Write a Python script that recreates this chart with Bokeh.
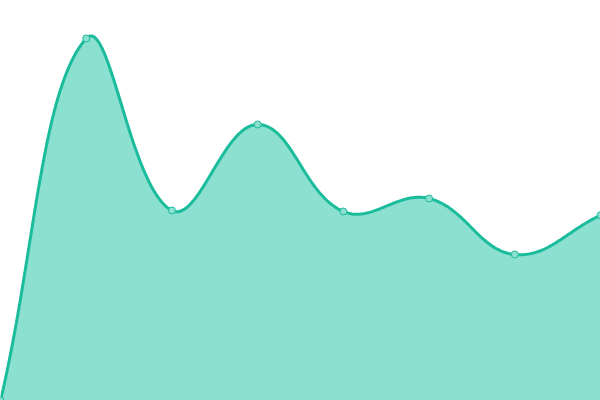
from bokeh.plotting import figure
from bokeh.models import Range1d
from bokeh.embed import file_html
from bokeh.resources import INLINE
import numpy as np

# data
categories = [0, 1, 2, 3, 4, 5, 6, 7]
values = [0, 90.5, 47.5, 69.0, 47.25, 50.5, 36.5, 46.3]

LINE = "#1abc9c"
FILL = "#8ce0cf"

# reference pixel scales (used only to compute Chart.js-like spline control points)
SX = 600 / 7.0
SY = 4.0
TENSION = 0.4

px = np.array(categories, float) * SX
py = np.array(values, float) * SY
n = len(px)

cp_prev = [None] * n
cp_next = [None] * n
for i in range(n):
    pr = (px[max(i - 1, 0)], py[max(i - 1, 0)])
    cu = (px[i], py[i])
    nx = (px[min(i + 1, n - 1)], py[min(i + 1, n - 1)])
    d01 = np.hypot(cu[0] - pr[0], cu[1] - pr[1])
    d12 = np.hypot(nx[0] - cu[0], nx[1] - cu[1])
    tot = d01 + d12
    s01 = d01 / tot if tot else 0
    s12 = d12 / tot if tot else 0
    fa = TENSION * s01
    fb = TENSION * s12
    cp_prev[i] = (cu[0] - fa * (nx[0] - pr[0]), cu[1] - fa * (nx[1] - pr[1]))
    cp_next[i] = (cu[0] + fb * (nx[0] - pr[0]), cu[1] + fb * (nx[1] - pr[1]))

cx, cy = [], []
t = np.linspace(0, 1, 40)
for i in range(n - 1):
    p0 = (px[i], py[i]); c1 = cp_next[i]; c2 = cp_prev[i + 1]; p3 = (px[i + 1], py[i + 1])
    bx = (1 - t) ** 3 * p0[0] + 3 * (1 - t) ** 2 * t * c1[0] + 3 * (1 - t) * t ** 2 * c2[0] + t ** 3 * p3[0]
    by = (1 - t) ** 3 * p0[1] + 3 * (1 - t) ** 2 * t * c1[1] + 3 * (1 - t) * t ** 2 * c2[1] + t ** 3 * p3[1]
    if i > 0:
        bx, by = bx[1:], by[1:]
    cx.extend(bx / SX)
    cy.extend(by / SY)

p = figure(width=600, height=400, output_backend="svg", toolbar_location=None,
           x_range=Range1d(0, 7), y_range=Range1d(0, 100),
           min_border=0)
p.axis.visible = False
p.grid.visible = False
p.outline_line_color = None
p.background_fill_color = "white"
p.border_fill_color = "white"

p.patch(cx + [cx[-1], cx[0]], cy + [0, 0], fill_color=FILL, line_color=None)
p.line(cx, cy, line_color=LINE, line_width=3)
p.scatter(categories, values, size=7, fill_color=FILL, line_color=LINE, line_width=1)

open("out.html", "w").write(file_html(p, INLINE))
